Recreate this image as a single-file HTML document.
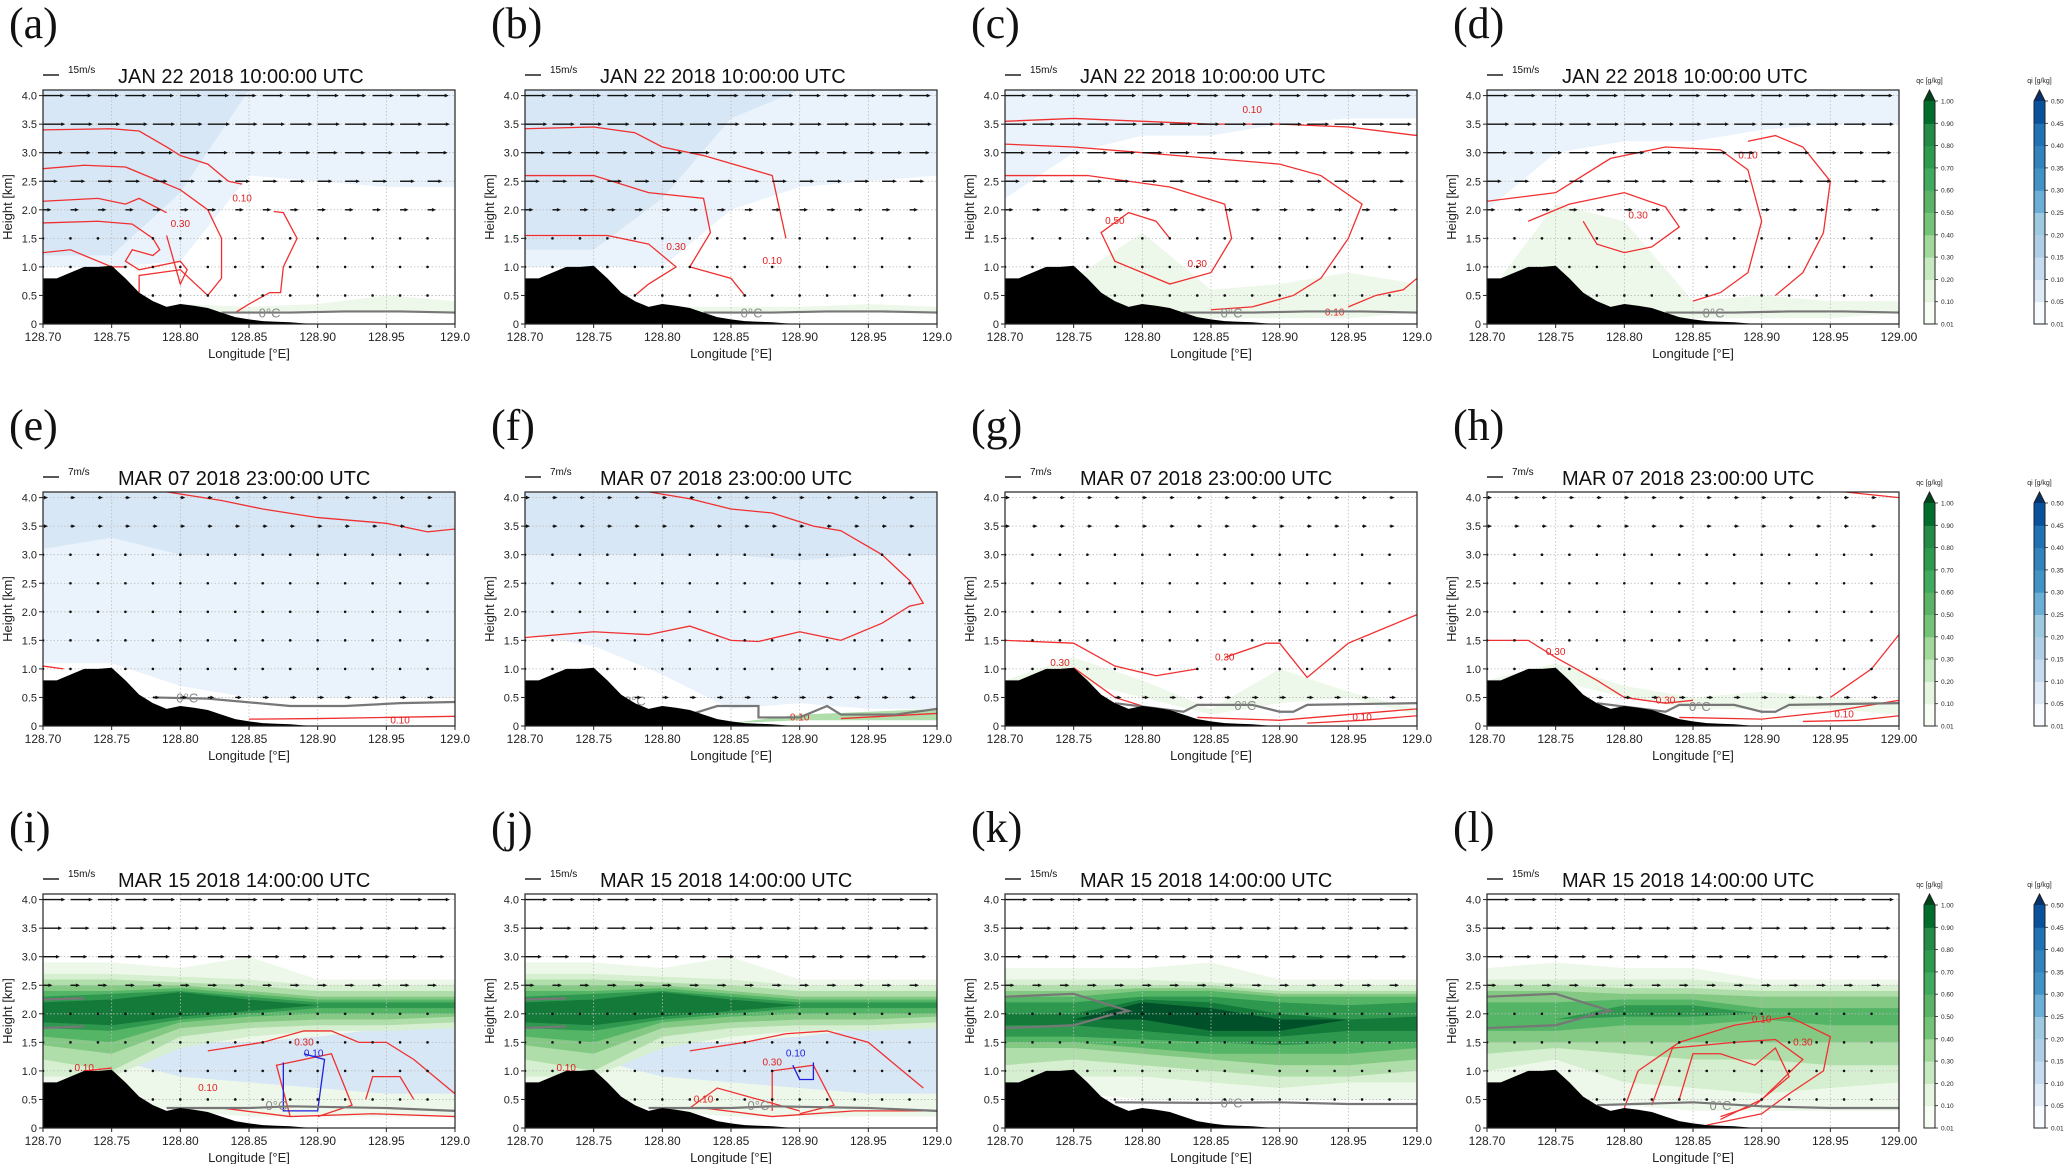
<!DOCTYPE html>
<html><head><meta charset="utf-8"><style>
html,body{margin:0;padding:0;background:#fff;}
svg{display:block;font-family:"Liberation Sans",sans-serif;}
</style></head><body>
<svg id="fig" width="2067" height="1164" viewBox="0 0 2067 1164" xmlns="http://www.w3.org/2000/svg"></svg>
<script>
// ---------- data ----------
const panelLetters=["a","b","c","d","e","f","g","h","i","j","k","l"];
const rowTitles=["JAN 22 2018 10:00:00 UTC","MAR 07 2018 23:00:00 UTC","MAR 15 2018 14:00:00 UTC"];
const rowRefSpeed=[15,7,15];
const xTicks=[128.70,128.75,128.80,128.85,128.90,128.95,129.00];
const yTicks=[0,0.5,1.0,1.5,2.0,2.5,3.0,3.5,4.0];
const terrainLon=[128.70,128.71,128.72,128.73,128.74,128.75,128.76,128.77,128.78,128.79,128.80,128.81,128.82,128.83,128.84,128.85,128.86,128.87,128.88,128.89,128.90,129.00];
const terrainH=[0.8,0.8,0.9,1.0,1.0,1.02,0.8,0.55,0.4,0.3,0.35,0.32,0.28,0.2,0.12,0.08,0.05,0.04,0.03,0.01,0,0];
const windLevels=[0.5,1.0,1.5,2.0,2.5,3.0,3.5,4.0];
const windLon=[128.70,128.72,128.74,128.76,128.78,128.80,128.82,128.84,128.86,128.88,128.90,128.92,128.94,128.96,128.98];
const windRow1=[0,0.3,0.5,6,12,17,19,18];
const windRow2=[2,0.5,0.5,0.7,0.5,0.7,1.3,1.3];
const windRow3=[0.5,0.5,0.5,1,7,14,16,19];
const bandLon=[128.70,128.75,128.80,128.85,128.90,128.95,129.00];
const greens=["#eef8ea","#d6efd0","#b0deaa","#83c984","#55b567","#2f984f","#137a3a","#00502a"];
const blues=["#eaf3fb","#d8e7f5","#c3d9ee"];
const shadeA=[["b",0,[1.0,1.0,1.1,2.6,2.5,2.4,2.4],[4.1,4.1,4.1,4.1,4.1,4.1,4.1]],["b",1,[1.2,1.2,2.3,4.1,4.1,4.1,4.1],[4.1,4.1,4.1,4.1,4.1,4.1,4.1]],["g",0,[0.2,0.2,0.2,0.2,0.2,0.2,0.2],[0.2,0.2,0.35,0.3,0.35,0.5,0.4]]];
const shadeB=[["b",0,[1.0,1.0,1.0,2.0,2.4,2.5,2.6],[4.1,4.1,4.1,4.1,4.1,4.1,4.1]],["b",1,[1.3,1.3,2.2,3.6,4.1,4.1,4.1],[4.1,4.1,4.1,4.1,4.1,4.1,4.1]],["g",0,[0.2,0.2,0.2,0.2,0.2,0.2,0.2],[0.2,0.2,0.3,0.3,0.3,0.35,0.3]]];
const shadeC=[["b",0,[2.2,3.0,3.3,3.3,3.5,3.6,3.6],[4.1,4.1,4.1,4.1,4.1,4.1,4.1]],["g",0,[0.2,0.3,0.2,0.1,0.1,0.1,0.2],[0.6,0.8,1.6,0.6,0.7,0.9,0.7]]];
const shadeD=[["b",0,[2.0,3.0,3.2,3.2,3.4,3.5,3.5],[4.1,4.1,4.1,4.1,4.1,4.1,4.1]],["g",0,[0.2,0.3,0.2,0.1,0.1,0.1,0.2],[0.5,2.1,1.8,0.4,0.5,0.4,0.4]]];
const shadeE=[["b",0,[1.1,1.1,0.7,0.5,0.5,0.5,0.5],[4.1,4.1,4.1,4.1,4.1,4.1,4.1]],["b",1,[3.1,3.3,3.0,3.0,3.0,3.0,3.0],[4.1,4.1,4.1,4.1,4.1,4.1,4.1]]];
const shadeF=[["b",0,[1.6,1.4,0.9,0.3,0.4,0.3,0.3],[4.1,4.1,4.1,4.1,4.1,4.1,4.1]],["b",1,[3.0,3.0,3.0,3.0,2.9,3.0,3.0],[4.1,4.1,4.1,4.1,4.1,4.1,4.1]],["g",2,[0.05,0.05,0.05,0.05,0.1,0.1,0.1],[0.05,0.05,0.05,0.05,0.2,0.25,0.3]]];
const shadeG=[["g",0,[0.8,0.8,0.5,0.2,0.4,0.5,0.2],[0.8,1.2,0.8,0.3,1.0,0.6,0.3]]];
const shadeH=[["g",0,[0.8,0.8,0.5,0.3,0.3,0.3,0.2],[0.8,1.1,0.7,0.5,0.6,0.5,0.4]]];
const shadeI=[["g",0,[0.3,0.5,0.3,0.2,0.2,0.2,0.2],[2.9,2.9,2.8,3.0,2.6,2.6,2.6]],["b",1,[1.2,1.2,0.9,0.8,0.7,0.6,0.6],[1.2,1.2,1.5,1.5,1.6,1.75,1.75]],["g",1,[0.9,0.9,1.4,1.6,1.7,1.7,1.75],[2.7,2.7,2.65,2.6,2.5,2.5,2.5]],["g",2,[1.2,1.0,1.6,1.75,1.8,1.8,1.85],[2.6,2.6,2.55,2.5,2.4,2.4,2.4]],["g",3,[1.45,1.3,1.75,1.85,1.9,1.9,1.95],[2.5,2.5,2.5,2.4,2.3,2.3,2.3]],["g",4,[1.6,1.5,1.85,1.95,2.0,2.0,2.0],[2.4,2.4,2.45,2.35,2.25,2.25,2.25]],["g",5,[1.75,1.7,1.9,2.0,2.1,2.1,2.1],[2.3,2.35,2.4,2.3,2.2,2.2,2.2]],["g",6,[1.85,1.8,1.95,2.05,2.15,2.15,2.15],[2.2,2.25,2.38,2.25,2.15,2.15,2.15]]];
const shadeJ=shadeI.map(b=>[b[0],b[1],b[2].slice(),b[3].slice()]);
const shadeK=[["g",0,[0.6,0.6,0.5,0.5,0.5,0.5,0.5],[2.8,2.8,2.8,2.9,2.6,2.6,2.6]],["g",1,[0.8,0.9,0.9,0.8,0.7,0.8,0.8],[2.6,2.6,2.6,2.55,2.5,2.5,2.5]],["g",2,[1.1,1.2,1.1,1.0,0.9,0.9,1.0],[2.5,2.5,2.5,2.5,2.4,2.4,2.4]],["g",3,[1.4,1.4,1.3,1.2,1.1,1.1,1.2],[2.4,2.4,2.45,2.45,2.35,2.35,2.35]],["g",4,[1.5,1.5,1.4,1.3,1.3,1.3,1.4],[2.3,2.3,2.4,2.4,2.3,2.3,2.3]],["g",5,[1.6,1.6,1.55,1.5,1.45,1.5,1.5],[2.2,2.2,2.3,2.3,2.2,2.15,2.2]],["g",6,[1.8,1.8,1.7,1.6,1.6,1.7,1.7],[2.0,2.0,2.25,2.2,2.0,1.9,1.95]],["g",7,[1.9,1.9,1.9,1.7,1.7,1.9,1.9],[1.9,1.9,2.2,2.1,1.9,1.9,1.9]]];
const shadeL=[["g",0,[0.5,0.5,0.4,0.3,0.3,0.3,0.3],[2.8,2.9,2.8,2.8,2.6,2.6,2.6]],["g",1,[1.0,1.2,0.8,0.7,0.6,0.7,0.8],[2.6,2.6,2.6,2.6,2.5,2.5,2.5]],["g",2,[1.3,1.4,1.3,1.2,1.2,1.1,1.1],[2.5,2.5,2.45,2.45,2.4,2.4,2.4]],["g",3,[1.5,1.5,1.5,1.5,1.5,1.5,1.5],[2.4,2.4,2.35,2.35,2.3,2.3,2.3]],["g",4,[1.7,1.7,1.8,1.8,1.9,1.8,1.8],[2.2,2.2,2.25,2.25,2.1,2.1,2.1]],["g",5,[1.9,1.9,1.95,1.95,2.0,2.0,2.0],[1.9,1.9,2.15,2.15,2.0,2.0,2.0]]];
const panelShades=[shadeA,shadeB,shadeC,shadeD,shadeE,shadeF,shadeG,shadeH,shadeI,shadeJ,shadeK,shadeL];
const contoursA=[[[128.70,3.4],[128.75,3.42],[128.77,3.38],[128.79,3.1],[128.80,2.95],[128.82,2.8],[128.835,2.5],[128.845,2.45]],[[128.70,2.72],[128.73,2.78],[128.76,2.75],[128.78,2.55],[128.80,2.35],[128.82,2.0],[128.83,1.5],[128.83,0.8],[128.82,0.5],[128.80,0.95],[128.77,0.85],[128.77,0.55]],[[128.70,2.15],[128.74,2.2],[128.76,2.1],[128.77,2.2],[128.79,1.95]],[[128.70,1.77],[128.74,1.8],[128.765,1.75],[128.78,1.5],[128.785,1.3],[128.78,1.2],[128.765,1.3],[128.76,1.1],[128.77,0.95],[128.80,1.1],[128.805,0.95],[128.80,0.7],[128.79,1.55]],[[128.70,1.25],[128.72,1.3],[128.73,1.2],[128.75,1.0],[128.76,1.0]],[[128.868,1.97],[128.875,1.95],[128.885,1.5],[128.875,1.0],[128.873,0.55],[128.865,0.55],[128.85,0.35],[128.84,0.2]]];
const contoursB=[[[128.70,3.42],[128.75,3.45],[128.78,3.35],[128.80,3.1],[128.83,2.95],[128.88,2.6],[128.89,1.5]],[[128.70,2.6],[128.75,2.6],[128.79,2.3],[128.83,2.2],[128.835,1.6],[128.82,1.0],[128.85,0.8],[128.86,0.5]],[[128.70,1.55],[128.76,1.55],[128.79,1.4],[128.81,1.0],[128.79,0.7],[128.78,0.5]]];
const contoursC=[[[128.70,3.55],[128.75,3.6],[128.80,3.55],[128.85,3.5],[128.90,3.5],[128.95,3.45],[129.00,3.3]],[[128.70,3.15],[128.75,3.1],[128.80,3.0],[128.85,2.9],[128.90,2.8],[128.93,2.6],[128.96,2.1],[128.95,1.5],[128.93,0.8],[128.91,0.5],[128.88,0.3],[128.85,0.25]],[[128.70,2.6],[128.76,2.6],[128.82,2.4],[128.86,2.1],[128.865,1.5],[128.85,0.9],[128.82,0.7],[128.80,0.9],[128.78,1.1],[128.77,1.6],[128.79,1.95],[128.81,1.8],[128.82,1.5]],[[128.95,0.3],[128.97,0.5],[128.99,0.6],[129.00,0.8]]];
const contoursD=[[[128.70,2.15],[128.75,2.3],[128.79,2.9],[128.83,3.1],[128.87,3.05],[128.89,2.7],[128.90,1.8],[128.89,0.9],[128.87,0.55],[128.85,0.4]],[[128.73,1.8],[128.76,2.1],[128.80,2.3],[128.83,2.05],[128.84,1.7],[128.82,1.35],[128.80,1.25],[128.78,1.4],[128.77,1.8]],[[128.89,3.2],[128.91,3.3],[128.93,3.1],[128.95,2.5],[128.945,1.6],[128.93,0.9],[128.91,0.5]]];
const contoursE=[[[128.79,4.1],[128.83,3.95],[128.86,3.8],[128.90,3.65],[128.95,3.55],[128.98,3.4],[129.00,3.45]],[[128.70,1.05],[128.715,1.0]],[[128.85,0.12],[128.90,0.13],[128.95,0.15],[129.00,0.17]]];
const contoursF=[[[128.79,4.1],[128.82,3.98],[128.85,3.8],[128.88,3.73],[128.91,3.5],[128.93,3.42],[128.96,3.0],[128.98,2.55],[128.99,2.15],[128.98,2.1],[128.96,1.8],[128.93,1.5],[128.90,1.65],[128.87,1.48],[128.85,1.5],[128.82,1.75],[128.79,1.6],[128.75,1.65],[128.70,1.55]],[[128.93,0.13],[128.96,0.17],[129.00,0.22]]];
const contoursG=[[[128.70,1.5],[128.75,1.45],[128.78,1.05],[128.81,0.88],[128.84,1.0]],[[128.86,1.2],[128.89,1.45],[128.90,1.45],[128.92,0.85],[128.95,1.45],[128.97,1.65],[129.00,1.95]],[[128.75,1.02],[128.78,0.5],[128.80,0.35]],[[128.84,0.15],[128.90,0.1],[128.95,0.2],[129.00,0.3]],[[128.92,0.05],[128.96,0.1],[129.00,0.18]]];
const contoursH=[[[128.70,1.5],[128.73,1.5],[128.75,1.2],[128.78,0.8],[128.80,0.5],[128.83,0.4],[128.85,0.45]],[[128.84,0.15],[128.90,0.12],[128.95,0.25],[129.00,0.45]],[[128.93,0.08],[128.97,0.1],[129.00,0.18]],[[128.95,0.5],[128.98,1.0],[129.00,1.6]],[[128.96,4.1],[129.00,4.0]]];
const contoursI=[[[128.82,1.35],[128.86,1.5],[128.89,1.7],[128.91,1.7],[128.93,1.5],[128.95,1.5],[128.97,1.2],[128.99,0.8],[129.00,0.6]],[[128.88,0.2],[128.87,1.1],[128.91,1.3],[128.925,0.4],[128.90,0.2]],[[128.935,0.5],[128.94,0.9],[128.96,0.9],[128.97,0.5]],[[128.75,1.05],[128.73,1.0]],[[128.83,0.35],[128.88,0.2],[128.94,0.25],[129.00,0.2]]];
const contoursJ=[[[128.82,1.35],[128.86,1.5],[128.89,1.65],[128.92,1.7],[128.95,1.5],[128.97,1.1],[128.99,0.7]],[[128.88,0.3],[128.88,1.0],[128.91,1.1],[128.925,0.4],[128.90,0.25]],[[128.82,0.35],[128.84,0.7],[128.87,0.5],[128.9,0.3]],[[128.83,0.35],[128.88,0.2],[128.94,0.3],[129.00,0.3]]];
const contoursK=[];
const contoursL=[[[128.80,0.35],[128.81,1.0],[128.84,1.5],[128.88,1.8],[128.92,1.95],[128.95,1.6],[128.945,1.0],[128.92,0.6],[128.90,0.25],[128.86,0.05]],[[128.82,0.4],[128.835,1.4],[128.88,1.5],[128.91,1.55],[128.93,1.2],[128.90,0.5],[128.87,0.15]],[[128.84,0.5],[128.85,1.3],[128.87,1.3],[128.895,1.1],[128.91,1.4],[128.92,0.9],[128.895,0.4],[128.87,0.2]]];
const panelContours=[contoursA,contoursB,contoursC,contoursD,contoursE,contoursF,contoursG,contoursH,contoursI,contoursJ,contoursK,contoursL];
const contourLabels=[[["0.10",128.845,2.2],["0.30",128.80,1.75]],[["0.30",128.81,1.35],["0.10",128.88,1.1]],[["0.10",128.88,3.75],["0.50",128.78,1.8],["0.30",128.84,1.05],["0.10",128.94,0.2]],[["0.10",128.89,2.95],["0.30",128.81,1.9]],[["0.10",128.96,0.1]],[["0.10",128.90,0.15]],[["0.30",128.86,1.2],["0.30",128.74,1.1],["0.10",128.96,0.15]],[["0.30",128.75,1.3],["0.30",128.83,0.45],["0.10",128.96,0.2]],[["0.30",128.89,1.5],["0.10",128.73,1.05],["0.10",128.82,0.7]],[["0.30",128.88,1.15],["0.10",128.73,1.05],["0.10",128.83,0.5]],[],[["0.10",128.90,1.9],["0.30",128.93,1.5]]];
const frzA=[[128.83,0.2],[128.88,0.2],[128.92,0.22],[128.96,0.22],[129.00,0.2]];
const frzE=[[128.78,0.5],[128.82,0.48],[128.88,0.35],[128.92,0.35],[128.96,0.4],[129.00,0.42]];
const frzF=[[128.82,0.2],[128.84,0.35],[128.87,0.35],[128.87,0.15],[128.90,0.15],[128.92,0.35],[128.93,0.2],[128.97,0.2],[129.00,0.3]];
const frzG=[[128.78,0.4],[128.83,0.25],[128.84,0.37],[128.88,0.37],[128.90,0.25],[128.91,0.25],[128.92,0.37],[129.00,0.4]];
const frzI=[[128.79,0.35],[128.85,0.35],[128.88,0.38],[128.95,0.35],[129.00,0.3]];
const frzIu=[[128.70,2.25],[128.73,2.27]];
const frzIl=[[128.70,1.75],[128.73,1.78]];
const frzK=[[128.78,0.45],[128.85,0.44],[128.90,0.45],[128.95,0.42],[129.00,0.42]];
const frzKu=[[128.70,2.3],[128.75,2.35],[128.79,2.05],[128.78,2.0],[128.75,1.8],[128.70,1.75]];
const frzL=[[128.78,0.4],[128.85,0.45],[128.90,0.38],[128.95,0.35],[129.00,0.35]];
const panelFrz=[[frzA],[frzA],[frzA],[frzA],[frzE],[frzF],[frzG],[frzG],[frzI,frzIu,frzIl],[frzI,frzIu,frzIl],[frzK,frzKu],[frzL,frzKu]];
const frzLabelPos=[[128.865,0.2],[128.865,0.2],[128.865,0.2],[128.865,0.2],[128.805,0.5],[128.78,0.45],[128.875,0.37],[128.855,0.35],[128.87,0.4],[128.87,0.4],[128.865,0.45],[128.87,0.4]];
const blueContI=[[128.875,1.15],[128.875,0.3],[128.90,0.3],[128.905,1.2],[128.89,1.3]];
const blueContJ=[[128.895,1.1],[128.90,0.85],[128.91,0.85],[128.91,1.15]];
const cbGreenTicks=["0.01","0.10","0.20","0.30","0.40","0.50","0.60","0.70","0.80","0.90","1.00"];
const cbBlueTicks=["0.01","0.05","0.10","0.15","0.20","0.25","0.30","0.35","0.40","0.45","0.50"];
const cbGreenColors=["#f7fcf5","#e5f5e0","#c7e9c0","#a1d99b","#74c476","#5bb365","#41ab5d","#2e9a4e","#238b45","#006d2c","#00441b"];
const cbBlueColors=["#f7fbff","#deebf7","#c6dbef","#b0cfe6","#9ecae1","#6baed6","#4292c6","#3182bd","#2171b5","#08519c","#08306b"];

// ---------- drawing ----------
const NS="http://www.w3.org/2000/svg";
const svg=document.getElementById("fig");
function mk(tag,attrs,parent){const e=document.createElementNS(NS,tag);for(const k in attrs)e.setAttribute(k,attrs[k]);(parent||svg).appendChild(e);return e;}
const colX=[43,525,1005,1487], rowY=[90,492,894], PW=412, PH=234, KM=57.1;
function interp(lon){for(let i=0;i<terrainLon.length-1;i++){if(lon<=terrainLon[i+1]){const t=(lon-terrainLon[i])/(terrainLon[i+1]-terrainLon[i]);return terrainH[i]+t*(terrainH[i+1]-terrainH[i]);}}return 0;}
const winds=[windRow1,windRow2,windRow3];

for(let p=0;p<12;p++){
  const r=Math.floor(p/4), c=p%4, ox=colX[c], oy=rowY[r];
  const X=lon=>ox+(lon-128.70)/0.30*PW;
  const Y=h=>oy+PH-h*KM;
  const g=mk("g",{});
  
  
  const lab=mk("text",{x:ox-34,y:oy-52,"font-family":"Liberation Serif, serif","font-size":44,fill:"#111"},g);
  lab.textContent="("+panelLetters[p]+")";
  
  
  const cid="clip"+p;
  const cp=mk("clipPath",{id:cid},g); mk("rect",{x:ox,y:oy,width:PW,height:PH},cp);
  const plot=mk("g",{"clip-path":"url(#"+cid+")"},g);
  
  
  panelShades[p].forEach(b=>{
    const col=b[0]==="g"?greens[b[1]]:blues[b[1]];
    let pts=[];
    for(let i=0;i<bandLon.length;i++)pts.push(X(bandLon[i])+","+Y(b[3][i]));
    for(let i=bandLon.length-1;i>=0;i--)pts.push(X(bandLon[i])+","+Y(Math.min(b[2][i],b[3][i])));
    const s=mk("polygon",{points:pts.join(" "),fill:col,stroke:"none"},plot);
    
    
  });
  xTicks.forEach(t=>{const l=mk("line",{x1:X(t),x2:X(t),y1:oy,y2:oy+PH,stroke:"#bbb","stroke-width":0.8,"stroke-dasharray":"1.5,2"},plot);});
  yTicks.forEach(t=>{const l=mk("line",{x1:ox,x2:ox+PW,y1:Y(t),y2:Y(t),stroke:"#bbb","stroke-width":0.8,"stroke-dasharray":"1.5,2"},plot);});
  panelContours[p].forEach(cl=>{
    const pl=mk("polyline",{points:cl.map(q=>X(q[0])+","+Y(q[1])).join(" "),fill:"none",stroke:"#f03030","stroke-width":1.3},plot);
    
    
  });
  contourLabels[p].forEach(L=>{const t=mk("text",{x:X(L[1]),y:Y(L[2])+3,"font-size":10,fill:"#e02020","text-anchor":"middle"},plot);t.textContent=L[0];});
  if(p===8||p===9){const bc=p===8?blueContI:blueContJ;const pl=mk("polyline",{points:bc.map(q=>X(q[0])+","+Y(q[1])).join(" "),fill:"none",stroke:"#2020e0","stroke-width":1.3},plot);const t=mk("text",{x:X(128.89),y:Y(1.25),"font-size":10,fill:"#2020e0"},plot);t.textContent="0.10";}
  panelFrz[p].forEach(fl=>{const pl=mk("polyline",{points:fl.map(q=>X(q[0])+","+Y(q[1])).join(" "),fill:"none",stroke:"#777","stroke-width":2.2},plot);});
  const fp=frzLabelPos[p];
  const ft=mk("text",{x:X(fp[0]),y:Y(fp[1])+5,"font-size":13,fill:"#888","text-anchor":"middle"},plot);ft.textContent="0°C";
  
  const ws=winds[r], scale=16/rowRefSpeed[r];
  windLevels.forEach((lv,li)=>{windLon.forEach(lo=>{
    if(lv<interp(lo)+0.05)return;
    const x0=X(lo), y0=Y(lv), len=ws[li]*scale;
    const ag=mk("g",{},plot);
    
    
    if(len<2){mk("circle",{cx:x0,cy:y0,r:1.3,fill:"#111"},ag);}
    else{mk("line",{x1:x0,y1:y0,x2:x0+len,y2:y0,stroke:"#111","stroke-width":1.4},ag);mk("polygon",{points:(x0+len+2)+","+y0+" "+(x0+len-2)+","+(y0-1.8)+" "+(x0+len-2)+","+(y0+1.8),fill:"#111"},ag);}
  });});
  const tp=[X(128.70)+","+Y(0)];terrainLon.forEach((lo,i)=>tp.push(X(lo)+","+Y(terrainH[i])));tp.push(X(129.0)+","+Y(0));
  const ter=mk("polygon",{points:tp.join(" "),fill:"#000"},plot);
  
  const fr=mk("rect",{x:ox,y:oy,width:PW,height:PH,fill:"none",stroke:"#222","stroke-width":1.2},g);
  
  xTicks.forEach(t=>{mk("line",{x1:X(t),x2:X(t),y1:oy+PH,y2:oy+PH+4,stroke:"#222"},g);const tx=mk("text",{x:X(t),y:oy+PH+17,"font-size":12,fill:"#222","text-anchor":"middle"},g);tx.textContent=(c===3||t<129)?t.toFixed(2):"129.0";});
  yTicks.forEach(t=>{mk("line",{x1:ox-4,x2:ox,y1:Y(t),y2:Y(t),stroke:"#222"},g);const tx=mk("text",{x:ox-6,y:Y(t)+4,"font-size":11,fill:"#222","text-anchor":"end"},g);tx.textContent=t===0?"0":t.toFixed(1);});
  const xl=mk("text",{x:ox+PW/2,y:oy+PH+34,"font-size":13,fill:"#222","text-anchor":"middle"},g);xl.textContent="Longitude [°E]";
  
  const yl=mk("text",{x:0,y:0,"font-size":13,fill:"#222","text-anchor":"middle",transform:"translate("+(ox-31)+","+(oy+PH/2)+") rotate(-90)"},g);yl.textContent="Height [km]";
  
  const la=mk("line",{x1:ox,x2:ox+16,y1:oy-15,y2:oy-15,stroke:"#111","stroke-width":1.4},g);
  
  const lt=mk("text",{x:ox+25,y:oy-17,"font-size":10,fill:"#111"},g);lt.textContent=rowRefSpeed[r]+"m/s";
  
  const ti=mk("text",{x:ox+75,y:oy-7,"font-size":20,fill:"#111"},g);ti.textContent=rowTitles[r];
  
}
function colorbar(x,oy,colors,ticks,label,name){
  const g=mk("g",{});
  
  
  const top=oy+11,bot=oy+PH,w=11,n=10,seg=(bot-top)/n;
  for(let i=0;i<n;i++)mk("rect",{x:x,y:bot-(i+1)*seg,width:w,height:seg+0.5,fill:colors[i]},g);
  mk("polygon",{points:x+","+top+" "+(x+w)+","+top+" "+(x+w/2)+","+oy,fill:colors[10]},g);
  mk("polygon",{points:x+","+bot+" "+x+","+top+" "+(x+w/2)+","+oy+" "+(x+w)+","+top+" "+(x+w)+","+bot+" Z",fill:"none",stroke:"#222","stroke-width":1},g);
  ticks.forEach((t,i)=>{const y=bot-i*seg;mk("line",{x1:x+w,x2:x+w+3,y1:y,y2:y,stroke:"#222","stroke-width":0.8},g);const tx=mk("text",{x:x+w+6,y:y+2.5,"font-size":6.5,fill:"#222"},g);tx.textContent=t;});
  const lb=mk("text",{x:x+w/2,y:oy-7,"font-size":7,fill:"#222","text-anchor":"middle"},g);lb.textContent=label;
  
}
rowY.forEach(oy=>{colorbar(1924,oy,cbGreenColors,cbGreenTicks,"qc [g/kg]","colorbar-qc");colorbar(2034,oy,cbBlueColors,cbBlueTicks,"qi [g/kg]","colorbar-qi");});
</script>
</body></html>
